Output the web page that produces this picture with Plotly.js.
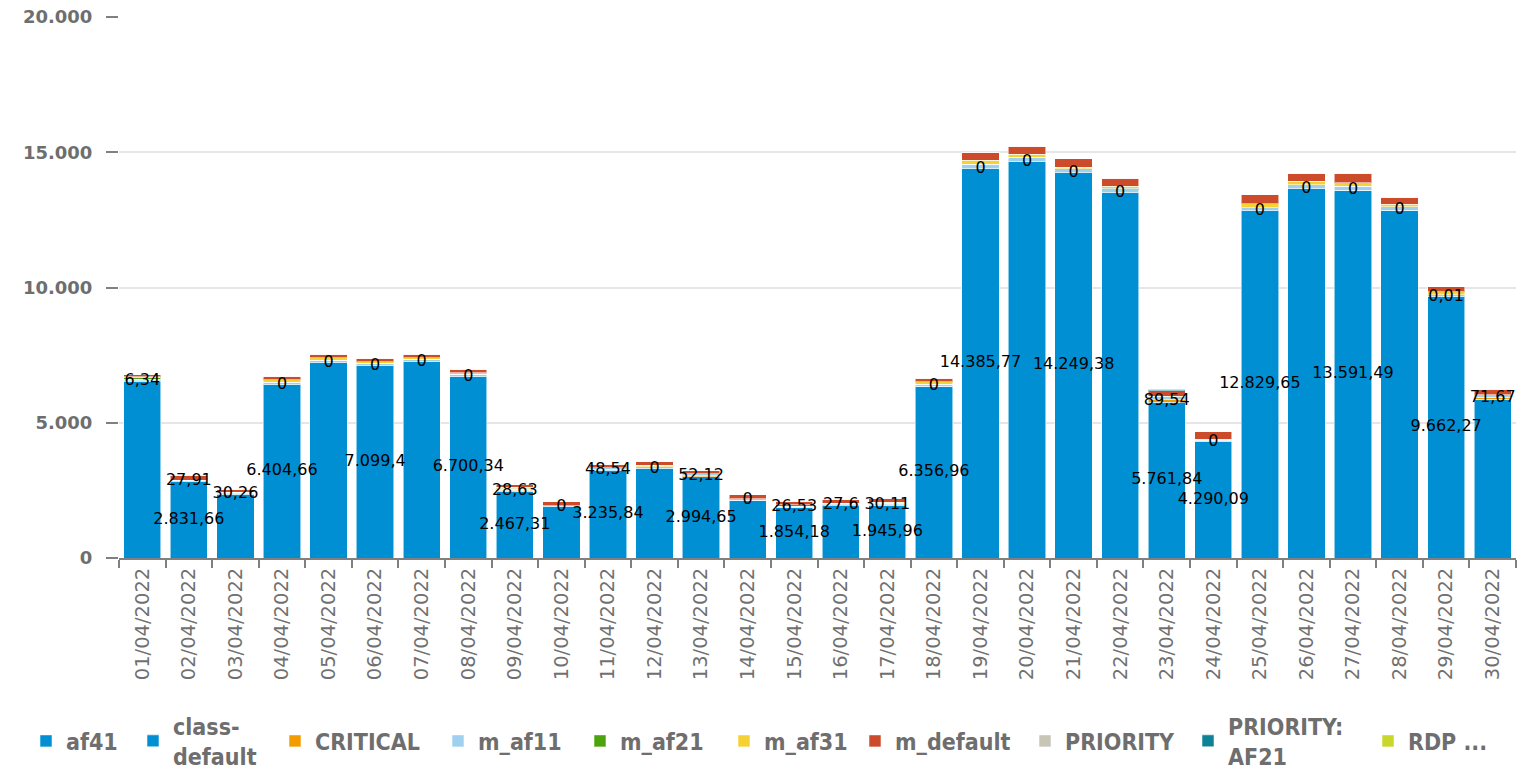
<!DOCTYPE html>
<html>
<head>
<meta charset="utf-8">
<script src="https://cdn.plot.ly/plotly-3.0.1.min.js"></script>
<style>
html,body{margin:0;padding:0;background:#fff;}
#chart{width:1529px;height:771px;}
</style>
</head>
<body>
<div id="chart"></div>
<script>
const dates = ['01/04/2022','02/04/2022','03/04/2022','04/04/2022','05/04/2022','06/04/2022','07/04/2022','08/04/2022','09/04/2022','10/04/2022',
  '11/04/2022','12/04/2022','13/04/2022','14/04/2022','15/04/2022','16/04/2022','17/04/2022','18/04/2022','19/04/2022','20/04/2022',
  '21/04/2022','22/04/2022','23/04/2022','24/04/2022','25/04/2022','26/04/2022','27/04/2022','28/04/2022','29/04/2022','30/04/2022'];

const af41 = [0,0,0,0,0,0,0,0,0,0, 0,0,0,0,0,0,0,0,0,0, 0,0,0,0,0,0,0,0,0,0];
const classDefault = [6540,2831.66,2355,6404.66,7220,7099.4,7257,6700.34,2467.31,1897,
  3235.84,3301,2994.65,2144,1854.18,1933,1945.96,6356.96,14385.77,14650,
  14249.38,13505,5761.84,4290.09,12829.65,13653,13591.49,12865,9662.27,5866];
const critical = [6.34,27.91,30.26,0,0,0,0,0,28.63,0,
  48.54,0,52.12,0,26.53,27.6,30.11,0,0,0,
  0,0,89.54,0,0,0,0,0,0.01,71.67];
const mAf11 = [60,20,40,86,98,98,90,86,50,30, 60,70,60,40,40,60,40,60,173,173, 100,110,70,60,123,148,148,123,74,98];
const mAf21 = [50,0,0,0,0,0,0,0,40,0, 0,0,0,0,50,0,50,0,0,0, 40,50,50,40,0,0,0,0,0,0];
const mAf31 = [50,0,0,98,86,60,60,60,30,0, 0,60,0,0,0,0,0,98,148,110, 60,85,0,0,135,135,135,86,110,0];
const mDefault = [74,173,123,123,123,135,123,123,100,160, 123,123,123,148,123,160,123,123,296,296, 308,284,210,270,333,284,345,259,185,210];
const priority = [0,0,0,0,0,0,0,0,0,0, 0,0,0,0,0,0,0,0,0,0, 0,0,0,0,0,0,0,0,0,0];
const priorityAf21 = [0,0,0,0,0,0,0,0,0,0, 0,0,0,0,0,0,0,0,0,0, 0,0,60,0,0,0,0,0,0,0];
const rdp = [0,0,0,0,0,0,0,0,0,0, 0,0,0,0,0,0,0,0,0,0, 0,0,0,0,0,0,0,0,0,0];

const seriesNames = ['af41','class-<br>default','CRITICAL','m_af11','m_af21','m_af31','m_default','PRIORITY','PRIORITY:<br>AF21','RDP ...'];
const seriesColors = ['#008fd3','#008fd3','#f39c00','#9fd0ee','#4ca30d','#f6d133','#cc4b2b','#c8c5b7','#0e8296','#cad62c'];
const seriesData = [af41,classDefault,critical,mAf11,mAf21,mAf31,mDefault,priority,priorityAf21,rdp];

// class-default data labels hidden by overlap in the original
const cdLabelShown = [false,true,false,true,false,true,false,true,true,false,
  true,false,true,false,true,false,true,true,true,false,
  true,false,true,true,true,false,true,false,true,false];

// legend entry swatch centres (px), one legend box per series
const legendSwatchX = [46,153,295,458,600,744,875,1045,1208,1388];

function fmt(v){
  let s = (Math.round(v*100)/100).toFixed(2).replace(/\.?0+$/,'');
  let parts = s.split('.');
  let ip = parts[0].replace(/\B(?=(\d{3})+(?!\d))/g,'.');
  return parts.length>1 ? ip+','+parts[1] : ip;
}

const legendKey = i => i===0 ? 'legend' : 'legend'+(i+1);

const traces = seriesData.map((arr,i)=>({
  type:'bar', x:dates, y:arr, name:seriesNames[i], legend:legendKey(i),
  marker:{color:seriesColors[i], line:{color:'rgba(255,255,255,0.55)', width:1}},
  hoverinfo:'x+y+name'
}));

const labelFont = {family:'DejaVu Sans', size:16, color:'#000'};
traces.push({
  type:'scatter', mode:'text', x:dates,
  y:classDefault.map((v,i)=>af41[i]+v/2),
  text:classDefault.map((v,i)=>cdLabelShown[i]?fmt(v):''),
  textposition:'middle center', textfont:labelFont,
  showlegend:false, hoverinfo:'skip', cliponaxis:false
});
traces.push({
  type:'scatter', mode:'text', x:dates,
  y:classDefault.map((v,i)=>af41[i]+v+critical[i]/2),
  text:critical.map(v=>fmt(v)),
  textposition:'middle center', textfont:labelFont,
  showlegend:false, hoverinfo:'skip', cliponaxis:false
});

const layout = {
  width:1529, height:771,
  margin:{l:119, r:13, t:17, b:213, pad:0},
  paper_bgcolor:'#fff', plot_bgcolor:'#fff',
  barmode:'stack', bargap:0.2,
  separators:',.',
  showlegend:true,
  xaxis:{
    type:'category', range:[-0.5,29.5], autorange:false,
    tickson:'boundaries', ticks:'outside', ticklen:8, tickwidth:2, tickcolor:'#808080',
    showline:true, linecolor:'#808080', linewidth:2, showgrid:false,
    tickangle:-90, tickfont:{family:'DejaVu Sans', size:19.5, color:'#707070'},
    fixedrange:true
  },
  yaxis:{
    range:[0,20000], autorange:false, dtick:5000, tickformat:',d',
    ticks:'outside', ticklen:12, tickwidth:2, tickcolor:'#808080',
    showgrid:true, gridcolor:'#e6e6e6', gridwidth:2,
    zeroline:false, showline:false,
    ticklabelstandoff:10,
    tickfont:{family:'DejaVu Sans', size:18, color:'#6e6e6e', weight:'bold'}
  }
};

legendSwatchX.forEach((cx,i)=>{
  layout[legendKey(i)] = {
    orientation:'h', traceorder:'normal',
    xref:'container', yref:'container', x:(cx-20)/1529, y:0.039, xanchor:'left', yanchor:'middle',
    font:{family:'DejaVu Sans Condensed, DejaVu Sans', size:23, color:'#6e6e6e', weight:'bold'},
    itemwidth:30, valign:'middle', bgcolor:'rgba(0,0,0,0)'
  };
});

Plotly.newPlot('chart', traces, layout, {displayModeBar:false, staticPlot:true});
</script>
</body>
</html>
